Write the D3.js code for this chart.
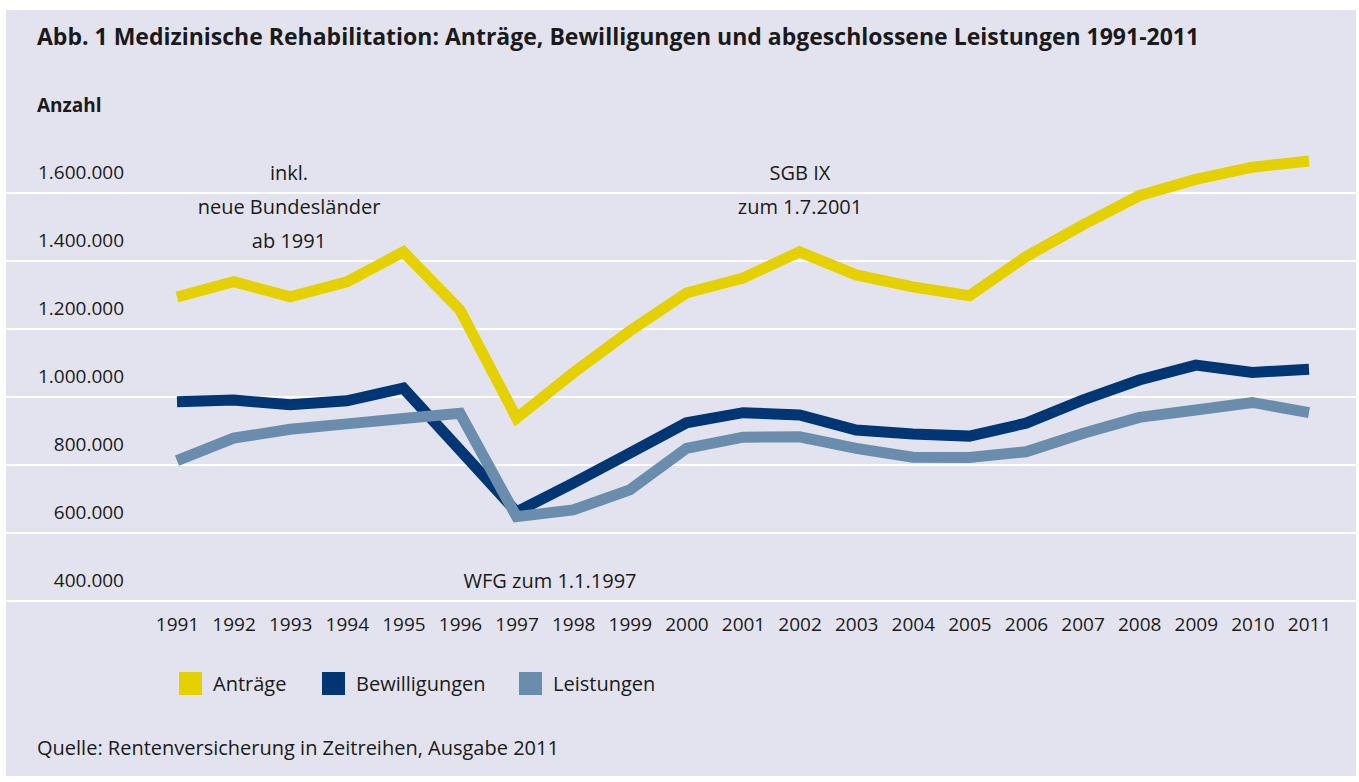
<!DOCTYPE html>
<html lang="de">
<head>
<meta charset="utf-8">
<title>Medizinische Rehabilitation 1991-2011</title>
<style>
  body { margin: 0; background: #ffffff; }
  svg { display: block; }
  .title { font-family: "Open Sans", Arial, sans-serif; font-weight: bold; font-size: 23px; fill: #1a1a1a; }
  .unit { font-family: "Open Sans", Arial, sans-serif; font-weight: bold; font-size: 19px; fill: #1a1a1a; }
  .lbl { font-family: "Open Sans", Arial, sans-serif; font-size: 20px; fill: #1a1a1a; }
  .tick .lbl { font-size: 19px; }
  .grid line { stroke: #ffffff; stroke-width: 2; shape-rendering: crispEdges; }
  .grid path { display: none; }
  .series { fill: none; stroke-width: 11; stroke-linejoin: miter; stroke-linecap: butt; }
</style>
</head>
<body>
<div id="chart"></div>
<script src="https://cdn.jsdelivr.net/npm/d3@7/dist/d3.min.js"></script>
<script>

// Daten
var years = [1991, 1992, 1993, 1994, 1995, 1996, 1997, 1998, 1999, 2000, 2001,
             2002, 2003, 2004, 2005, 2006, 2007, 2008, 2009, 2010, 2011];

var antraege = [1291000, 1336000, 1292000, 1336000, 1424000, 1253000, 935000, 1068000, 1191000, 1303000, 1347000,
                1424000, 1356000, 1321000, 1295000, 1410000, 1503000, 1589000, 1637000, 1673000, 1691000];

var bewilligungen = [983000, 988000, 974000, 986000, 1023000, 841000, 659000, 744000, 832000, 921000, 951000,
                     944000, 900000, 888000, 882000, 920000, 988000, 1047000, 1091000, 1069000, 1079000];

var leistungen = [810000, 876000, 902000, 918000, 934000, 949000, 645000, 665000, 724000, 846000, 879000,
                  880000, 846000, 820000, 819000, 836000, 890000, 937000, 959000, 981000, 951000];

var yTicks = [400000, 600000, 800000, 1000000, 1200000, 1400000, 1600000];

var seriesNames = ["Anträge", "Bewilligungen", "Leistungen"];
var seriesColors = ["#e5d100", "#003673", "#6a8dad"];

var width = 1359, height = 782;
var panel = {left: 6, top: 10, right: 1356, bottom: 776};

var svg = d3.select("#chart").append("svg")
            .attr("width", width)
            .attr("height", height);

svg.append("rect")
   .attr("x", panel.left)
   .attr("y", panel.top)
   .attr("width", panel.right - panel.left)
   .attr("height", panel.bottom - panel.top)
   .style("fill", "#e3e3ef");

var xScale = d3.scalePoint()
               .domain(years)
               .range([177, 1309]);

var yScale = d3.scaleLinear()
               .domain([400000, 1600000])
               .range([600, 192]);

var de = d3.formatLocale({decimal: ",", thousands: ".", grouping: [3], currency: ["", " €"]});
var fmt = de.format(",d");

// Gitterlinien + Beschriftung (Beschriftung sitzt oberhalb der Linie)
var yAxis = d3.axisLeft(yScale)
              .tickValues(yTicks)
              .tickSize(panel.right - panel.left)
              .tickFormat(fmt);

var gy = svg.append("g")
            .attr("class", "grid")
            .attr("transform", "translate(" + panel.right + ",0)")
            .call(yAxis);

gy.selectAll("text")
  .attr("class", "lbl")
  .attr("x", 124 - panel.right)
  .attr("dy", "-0.7em")
  .style("text-anchor", "end");

// x-Achse (nur Jahreszahlen)
var xAxis = d3.axisBottom(xScale).tickSize(0).tickPadding(0);
var gx = svg.append("g")
            .attr("transform", "translate(0,617)")
            .call(xAxis);
gx.select(".domain").remove();
gx.selectAll("text")
  .attr("class", "lbl")
  .attr("dy", "0.71em");
svg.selectAll("g").attr("font-family", null).attr("font-size", null);

// Linien
var line = d3.line()
             .x(function(d, i){ return xScale(years[i]); })
             .y(function(d){ return yScale(d); });

[antraege, bewilligungen, leistungen].forEach(function(s, i){
    svg.append("path")
       .datum(s)
       .attr("class", "series")
       .attr("d", line)
       .style("stroke", seriesColors[i]);
});

// Titel
svg.append("text")
   .attr("class", "title")
   .attr("x", 37)
   .attr("y", 45)
   .text("Abb. 1 Medizinische Rehabilitation: Anträge, Bewilligungen und abgeschlossene Leistungen 1991-2011");

svg.append("text")
   .attr("class", "unit")
   .attr("x", 37)
   .attr("y", 112)
   .text("Anzahl");

// Anmerkungen
var notes = [
    {x: 289, y: 180, t: "inkl."},
    {x: 289, y: 214, t: "neue Bundesländer"},
    {x: 289, y: 248, t: "ab 1991"},
    {x: 800, y: 180, t: "SGB IX"},
    {x: 800, y: 214, t: "zum 1.7.2001"},
    {x: 550, y: 588, t: "WFG zum 1.1.1997"}
];
svg.selectAll(".note")
   .data(notes)
   .enter()
   .append("text")
   .attr("class", "lbl note")
   .attr("x", function(d){ return d.x; })
   .attr("y", function(d){ return d.y; })
   .style("text-anchor", "middle")
   .text(function(d){ return d.t; });

// Legende
var legendX = [179, 322, 519];
var legend = svg.selectAll(".legend")
                .data(seriesNames)
                .enter()
                .append("g")
                .attr("class", "legend")
                .attr("transform", function(d, i){ return "translate(" + legendX[i] + ",672)"; });
legend.append("rect")
      .attr("width", 23)
      .attr("height", 23)
      .style("fill", function(d, i){ return seriesColors[i]; });
legend.append("text")
      .attr("class", "lbl")
      .attr("x", 34)
      .attr("y", 19)
      .text(function(d){ return d; });

// Quelle
svg.append("text")
   .attr("class", "lbl")
   .attr("x", 37)
   .attr("y", 755)
   .text("Quelle: Rentenversicherung in Zeitreihen, Ausgabe 2011");

</script>
</body>
</html>
